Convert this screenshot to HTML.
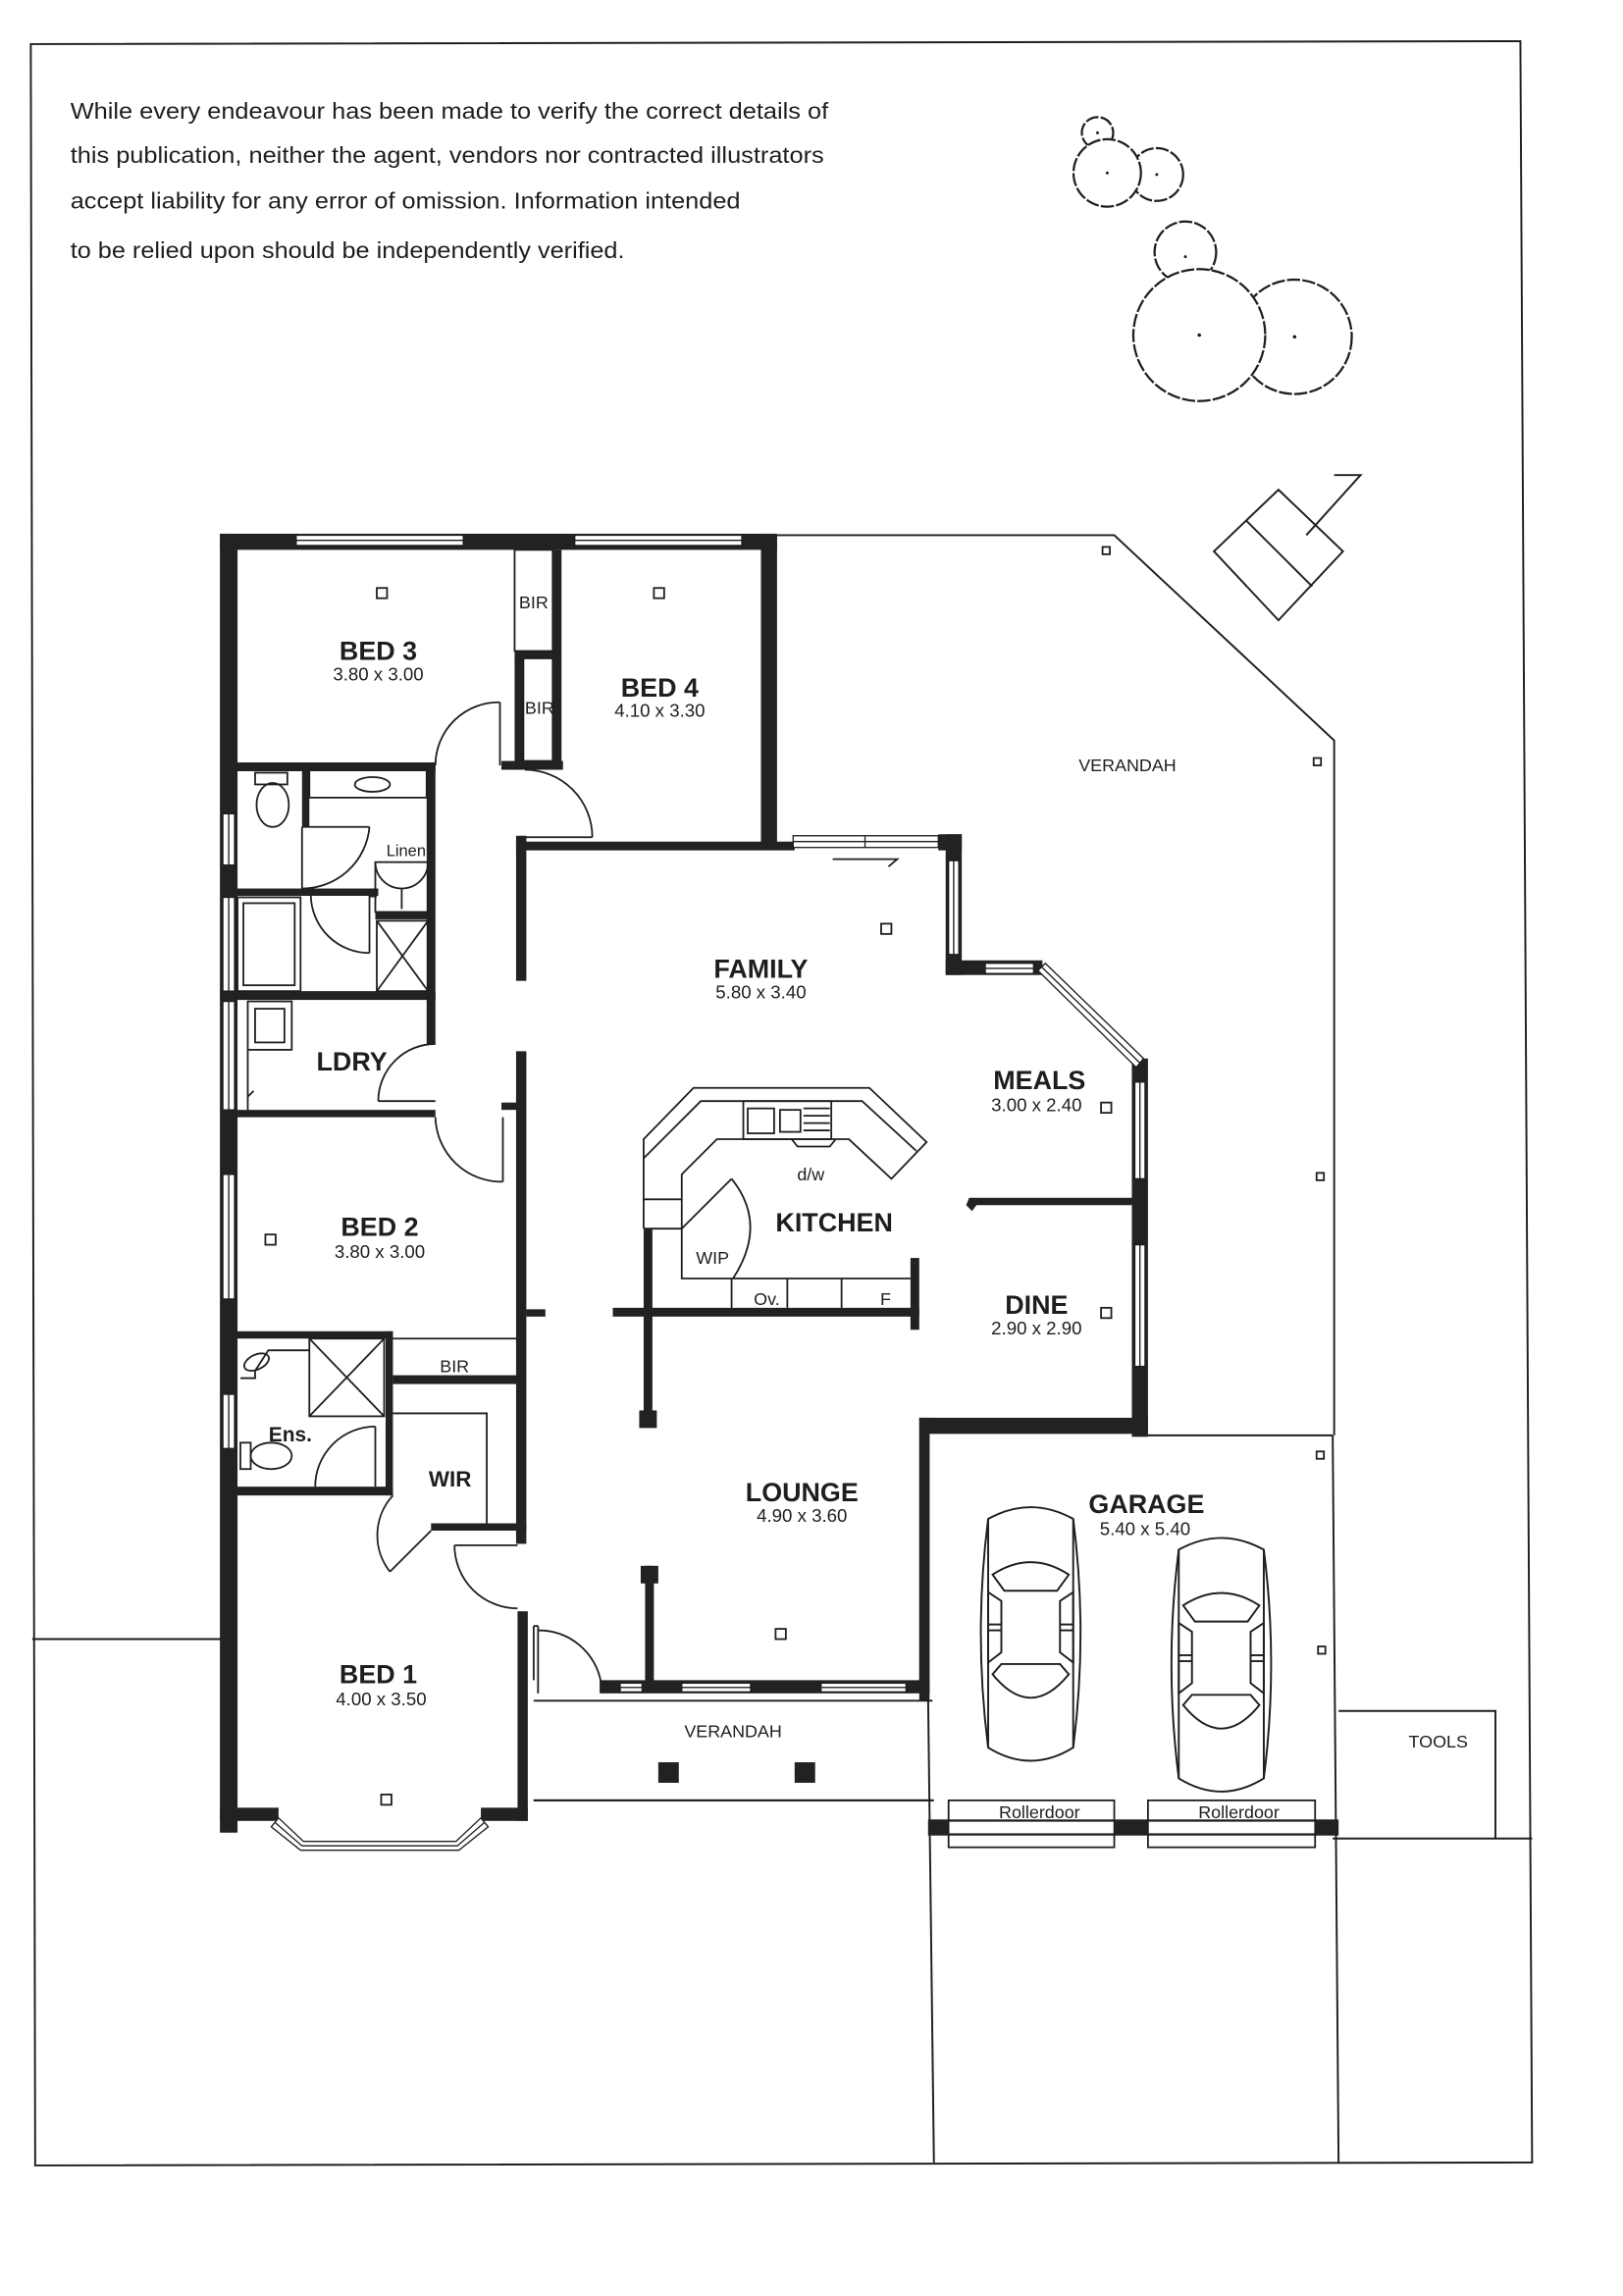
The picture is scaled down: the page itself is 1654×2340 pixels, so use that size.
<!DOCTYPE html>
<html><head><meta charset="utf-8"><style>
html,body{margin:0;padding:0;background:#fff;}
svg{display:block;}
text{font-family:"Liberation Sans",sans-serif;fill:#1e1e1e;}
.b{font-weight:bold;font-size:18px;}
.d{font-size:12.5px;}
.s{font-size:12px;}
</style></head><body>
<svg width="1654" height="2340" viewBox="0 0 1107 1566" xmlns="http://www.w3.org/2000/svg">
<rect x="0" y="0" width="1107" height="1566" fill="#fff"/>
<g fill="none" stroke="#1e1e1e" stroke-width="1.3">
<polygon points="21,30 1037,28 1045,1475 24,1477"/>
<line x1="22" y1="1118" x2="152" y2="1118"/>
<line x1="364" y1="1228" x2="637" y2="1228"/>
<line x1="633" y1="1155" x2="637" y2="1475"/>
<line x1="909" y1="979" x2="913" y2="1475"/>
<line x1="909" y1="1254" x2="1045" y2="1254"/>
<polyline points="913,1167 1020,1167 1020,1254"/>
<polyline points="530,365 760,365 910,505 910,979"/>
<line x1="782" y1="979" x2="909" y2="979"/>
<line x1="364" y1="1160" x2="636" y2="1160"/>
<line x1="364" y1="1228" x2="636" y2="1228"/>
</g>

<g font-size="15.5">
<text x="48" y="81" textLength="517" lengthAdjust="spacingAndGlyphs">While every endeavour has been made to verify the correct details of</text>
<text x="48" y="111" textLength="514" lengthAdjust="spacingAndGlyphs">this publication, neither the agent, vendors nor contracted illustrators</text>
<text x="48" y="142" textLength="457" lengthAdjust="spacingAndGlyphs">accept liability for any error of omission. Information intended</text>
<text x="48" y="176" textLength="378" lengthAdjust="spacingAndGlyphs">to be relied upon should be independently verified.</text>
</g>

<g fill="#fff" stroke="#1e1e1e" stroke-width="1.5" stroke-dasharray="9 1.5">
<circle cx="748.6" cy="90.5" r="10.7"/>
<circle cx="789" cy="119" r="18"/>
<circle cx="755.2" cy="117.9" r="23"/>
<circle cx="808.5" cy="172" r="21"/>
<circle cx="883" cy="229.7" r="39"/>
<circle cx="818" cy="228.5" r="45"/>
</g>
<g fill="#1e1e1e">
<circle cx="748.6" cy="90.5" r="1"/><circle cx="789" cy="119" r="1"/><circle cx="755.2" cy="117.9" r="1"/>
<circle cx="808.5" cy="175" r="1"/><circle cx="883" cy="229.7" r="1.2"/><circle cx="818" cy="228.5" r="1.2"/>
</g>
<g fill="none" stroke="#1e1e1e" stroke-width="1.3">
<polygon points="872,334 916,376 872,423 828,376"/>
<line x1="850" y1="355" x2="895" y2="400"/>
<polyline points="891,365 928,324 910,324"/>
</g>

<g fill="#222">
<rect x="150" y="364" width="380" height="11"/>
<rect x="150" y="364" width="12" height="886"/>
<rect x="519" y="364" width="11" height="214"/>
<rect x="161" y="520" width="136" height="6"/>
<rect x="377" y="375" width="6" height="150"/>
<rect x="351" y="444" width="31" height="5"/>
<rect x="351" y="447" width="6" height="78"/>
<rect x="342" y="519" width="42" height="6"/>
<rect x="352" y="574" width="190" height="6"/>
<rect x="640" y="569" width="16" height="11"/>
<rect x="645" y="569" width="11" height="96"/>
<rect x="645" y="655" width="66" height="10"/>
<rect x="772" y="722" width="11" height="258"/>
<rect x="627" y="967" width="156" height="11"/>
<rect x="627" y="967" width="7" height="193"/>
<rect x="409" y="1146" width="225" height="9"/>
<polygon points="661,817 772,817 772,822 666,822 663,826 659,822"/>
<rect x="291" y="520" width="6" height="192"/>
<rect x="352" y="570" width="7" height="99"/>
<rect x="352" y="717" width="7" height="336"/>
<rect x="359" y="893" width="13" height="5"/>
<rect x="342" y="752" width="11" height="5"/>
<rect x="206" y="525" width="5" height="39"/>
<rect x="161" y="606" width="97" height="5"/>
<rect x="252" y="606" width="5" height="6"/>
<rect x="256" y="622" width="38" height="5"/>
<rect x="150" y="676" width="147" height="6"/>
<rect x="161" y="757" width="136" height="5"/>
<rect x="161" y="908" width="107" height="5"/>
<rect x="263" y="908" width="5" height="112"/>
<rect x="161" y="1014" width="107" height="6"/>
<rect x="268" y="938" width="85" height="6"/>
<rect x="294" y="1039" width="65" height="5"/>
<rect x="353" y="1099" width="7" height="143"/>
<rect x="150" y="1233" width="40" height="9"/>
<rect x="328" y="1233" width="32" height="9"/>
<rect x="439" y="838" width="6" height="133"/>
<rect x="436" y="962" width="12" height="12"/>
<rect x="418" y="892" width="209" height="6"/>
<rect x="621" y="858" width="6" height="49"/>
<rect x="440" y="1068" width="6" height="82"/>
<rect x="437" y="1068" width="12" height="12"/>
<rect x="449" y="1202" width="14" height="14"/>
<rect x="542" y="1202" width="14" height="14"/>
<rect x="627" y="978" width="7" height="177"/>
<rect x="633" y="1241" width="280" height="11"/>
</g>

<g fill="#fff" stroke="#1e1e1e" stroke-width="0.9">
<rect x="202" y="365" width="114" height="7"/><line x1="202" y1="368.5" x2="316" y2="368.5"/>
<rect x="392" y="365" width="114" height="7"/><line x1="392" y1="368.5" x2="506" y2="368.5"/>
<rect x="541" y="570" width="99" height="8"/><line x1="541" y1="574" x2="640" y2="574"/><line x1="590" y1="570" x2="590" y2="578"/>
<rect x="647" y="587" width="7" height="64"/><line x1="650.5" y1="587" x2="650.5" y2="651"/>
<rect x="672" y="657" width="33" height="7"/><line x1="672" y1="660.5" x2="705" y2="660.5"/>
<polygon points="713,657 780,722 775,728 708,662"/><line x1="710.5" y1="659.5" x2="777.5" y2="725"/>
<rect x="774" y="738" width="7" height="66"/><line x1="777.5" y1="738" x2="777.5" y2="804"/>
<rect x="774" y="849" width="7" height="83"/><line x1="777.5" y1="849" x2="777.5" y2="932"/>
<rect x="423" y="1148" width="15" height="6"/><line x1="423" y1="1151" x2="438" y2="1151"/>
<rect x="465" y="1148" width="47" height="6"/><line x1="465" y1="1151" x2="512" y2="1151"/>
<rect x="560" y="1148" width="58" height="6"/><line x1="560" y1="1151" x2="618" y2="1151"/>
<rect x="152" y="555" width="8" height="35"/><line x1="156" y1="555" x2="156" y2="590"/>
<rect x="152" y="612" width="8" height="64"/><line x1="156" y1="612" x2="156" y2="676"/>
<rect x="152" y="683" width="8" height="74"/><line x1="156" y1="683" x2="156" y2="757"/>
<rect x="152" y="801" width="8" height="85"/><line x1="156" y1="801" x2="156" y2="886"/>
<rect x="152" y="951" width="8" height="37"/><line x1="156" y1="951" x2="156" y2="988"/>
<polygon points="190,1240 207,1256 311,1256 328,1240 333,1246 313,1262 205,1262 185,1246"/>
<polyline points="187.5,1243 206,1259 312,1259 330.5,1243" fill="none"/>
</g>

<g fill="none" stroke="#1e1e1e" stroke-width="1.2">
<rect x="351" y="375" width="26" height="69"/>
<rect x="357" y="449" width="20" height="70"/>
<line x1="341" y1="479" x2="341" y2="522"/>
<path d="M341,479 A43,43 0 0 0 297,522"/>
<line x1="342" y1="524" x2="358" y2="524"/>
<path d="M358,525 A46,46 0 0 1 404,571"/>
<line x1="358" y1="571" x2="404" y2="571"/>
<rect x="174" y="527" width="22" height="8"/>
<ellipse cx="186" cy="549" rx="11" ry="15"/>
<rect x="211" y="525" width="80" height="19"/>
<ellipse cx="254" cy="535" rx="12" ry="5"/>
<line x1="206" y1="564" x2="252" y2="564"/>
<path d="M252,564 A46,46 0 0 1 206,606"/>
<line x1="206" y1="564" x2="206" y2="606"/>
<rect x="256" y="588" width="36" height="34"/>
<path d="M256,588 A18,18 0 0 0 274,606 M292,588 A18,18 0 0 1 274,606"/>
<line x1="274" y1="606" x2="274" y2="620"/>
<rect x="257" y="628" width="35" height="48"/>
<path d="M257,628 L292,676 M292,628 L257,676"/>
<rect x="162" y="612" width="43" height="64"/>
<rect x="166" y="616" width="35" height="56"/>
<line x1="252" y1="611" x2="252" y2="650"/>
<path d="M212,611 A40,40 0 0 0 252,650"/>
<rect x="169" y="683" width="30" height="33"/>
<rect x="174" y="688" width="20" height="23"/>
<line x1="169" y1="716" x2="169" y2="757"/>
<line x1="169" y1="748" x2="173" y2="744"/>
<line x1="258" y1="751" x2="297" y2="751"/>
<path d="M297,712 A39,39 0 0 0 258,751"/>
<line x1="343" y1="762" x2="343" y2="806"/>
<path d="M297,762 A45,45 0 0 0 343,806"/>
<rect x="211" y="913" width="51" height="53"/>
<path d="M211,913 L262,966 M262,913 L211,966"/>
<polyline points="211,921 183,921 174,935 174,940 164,940"/>
<ellipse cx="175" cy="929" rx="9" ry="5" transform="rotate(-25 175 929)"/>
<rect x="164" y="984" width="7" height="18"/>
<ellipse cx="185" cy="993" rx="14" ry="9"/>
<line x1="256" y1="973" x2="256" y2="1014"/>
<path d="M256,973 A41,41 0 0 0 215,1014"/>
<line x1="268" y1="913" x2="353" y2="913"/>
<polyline points="268,964 332,964 332,1039"/>
<line x1="294" y1="1044" x2="266" y2="1072"/>
<path d="M266,1072 A40,40 0 0 1 268,1020"/>
<line x1="310" y1="1054" x2="353" y2="1054"/>
<path d="M310,1054 A43,43 0 0 0 353,1097"/>
<line x1="364" y1="1109" x2="364" y2="1146"/>
<line x1="367" y1="1109" x2="367" y2="1155"/>
<line x1="364" y1="1109" x2="367" y2="1109"/>
<path d="M367,1112 A43,43 0 0 1 410,1148"/>
<polyline points="568,586 612,586 606,591"/>
<polyline points="439,838 439,777 473,742 593,742 632,779 608,804 579,777 489,777 465,801 465,872 499,872"/>
<polyline points="439,790 478,751 588,751 625,785"/>
<line x1="439" y1="818" x2="465" y2="818"/>
<line x1="439" y1="838" x2="465" y2="838"/>
<rect x="507" y="751" width="60" height="26"/>
<rect x="510" y="756" width="18" height="17"/>
<rect x="532" y="757" width="14" height="15"/>
<path d="M548,756 H566 M548,761 H566 M548,766 H566 M548,771 H566"/>
<polyline points="540,777 544,782 566,782 570,777"/>
<line x1="465" y1="838" x2="499" y2="804"/>
<path d="M499,804 Q524,835 500,872"/>
<line x1="499" y1="872" x2="621" y2="872"/>
<line x1="499" y1="872" x2="499" y2="892"/>
<line x1="537" y1="872" x2="537" y2="892"/>
<line x1="574" y1="872" x2="574" y2="892"/>
<rect x="647" y="1228" width="113" height="32"/>
<rect x="783" y="1228" width="114" height="32"/>
</g>
<rect x="647" y="1242" width="113" height="9" fill="#fff" stroke="#1e1e1e" stroke-width="1.1"/>
<rect x="783" y="1242" width="114" height="9" fill="#fff" stroke="#1e1e1e" stroke-width="1.1"/>

<defs>
<g id="car" fill="none" stroke="#1e1e1e" stroke-width="1.3">
<path d="M8,12 Q37,-4 66,12 Q76,90 66,168 Q37,186 8,168 Q-2,90 8,12 Z"/>
<line x1="8" y1="12" x2="8" y2="168"/><line x1="66" y1="12" x2="66" y2="168"/>
<path d="M11,50 Q37,33 63,50 L55,61 L19,61 Z"/>
<path d="M8,62 L17,68 L17,103 L8,110 Z M66,62 L57,68 L57,103 L66,110 Z"/>
<line x1="8" y1="84" x2="17" y2="84"/><line x1="8" y1="88" x2="17" y2="88"/>
<line x1="57" y1="84" x2="66" y2="84"/><line x1="57" y1="88" x2="66" y2="88"/>
<path d="M17,111 L57,111 L63,118 Q37,150 11,118 Z"/>
</g>
</defs>
<use href="#car" x="666" y="1024"/>
<use href="#car" x="796" y="1045"/>

<g fill="none" stroke="#1e1e1e" stroke-width="1.2">
<rect x="257" y="401" width="7" height="7"/>
<rect x="446" y="401" width="7" height="7"/>
<rect x="181" y="842" width="7" height="7"/>
<rect x="260" y="1224" width="7" height="7"/>
<rect x="529" y="1111" width="7" height="7"/>
<rect x="601" y="630" width="7" height="7"/>
<rect x="751" y="752" width="7" height="7"/>
<rect x="751" y="892" width="7" height="7"/>
<rect x="752" y="373" width="5" height="5"/>
<rect x="896" y="517" width="5" height="5"/>
<rect x="898" y="800" width="5" height="5"/>
<rect x="898" y="990" width="5" height="5"/>
<rect x="899" y="1123" width="5" height="5"/>
</g>

<g text-anchor="middle">
<text class="b" x="258" y="450">BED 3</text><text class="d" x="258" y="464">3.80 x 3.00</text>
<text class="b" x="450" y="475">BED 4</text><text class="d" x="450" y="489">4.10 x 3.30</text>
<text class="b" x="519" y="667">FAMILY</text><text class="d" x="519" y="681">5.80 x 3.40</text>
<text class="b" x="709" y="743">MEALS</text><text class="d" x="707" y="758">3.00 x 2.40</text>
<text class="b" x="569" y="840">KITCHEN</text>
<text class="b" x="707" y="896">DINE</text><text class="d" x="707" y="910">2.90 x 2.90</text>
<text class="b" x="259" y="843">BED 2</text><text class="d" x="259" y="858">3.80 x 3.00</text>
<text class="b" x="240" y="730">LDRY</text>
<text class="b" x="198" y="983" style="font-size:14px">Ens.</text>
<text class="b" x="307" y="1014" style="font-size:15px">WIR</text>
<text class="b" x="547" y="1024">LOUNGE</text><text class="d" x="547" y="1038">4.90 x 3.60</text>
<text class="b" x="258" y="1148">BED 1</text><text class="d" x="260" y="1163">4.00 x 3.50</text>
<text class="b" x="782" y="1032">GARAGE</text><text class="d" x="781" y="1047">5.40 x 5.40</text>
<text class="s" x="769" y="526">VERANDAH</text>
<text class="s" x="500" y="1185">VERANDAH</text>
<text class="s" x="981" y="1192">TOOLS</text>
<text class="s" x="709" y="1240">Rollerdoor</text>
<text class="s" x="845" y="1240">Rollerdoor</text>
<text class="s" x="364" y="415">BIR</text>
<text class="s" x="368" y="487">BIR</text>
<text class="s" x="310" y="936">BIR</text>
<text class="s" x="277" y="584" style="font-size:11px">Linen</text>
<text class="s" x="486" y="862">WIP</text>
<text class="s" x="553" y="805">d/w</text>
<text class="s" x="523" y="890">Ov.</text>
<text class="s" x="604" y="890">F</text>
</g>
</svg>
</body></html>
